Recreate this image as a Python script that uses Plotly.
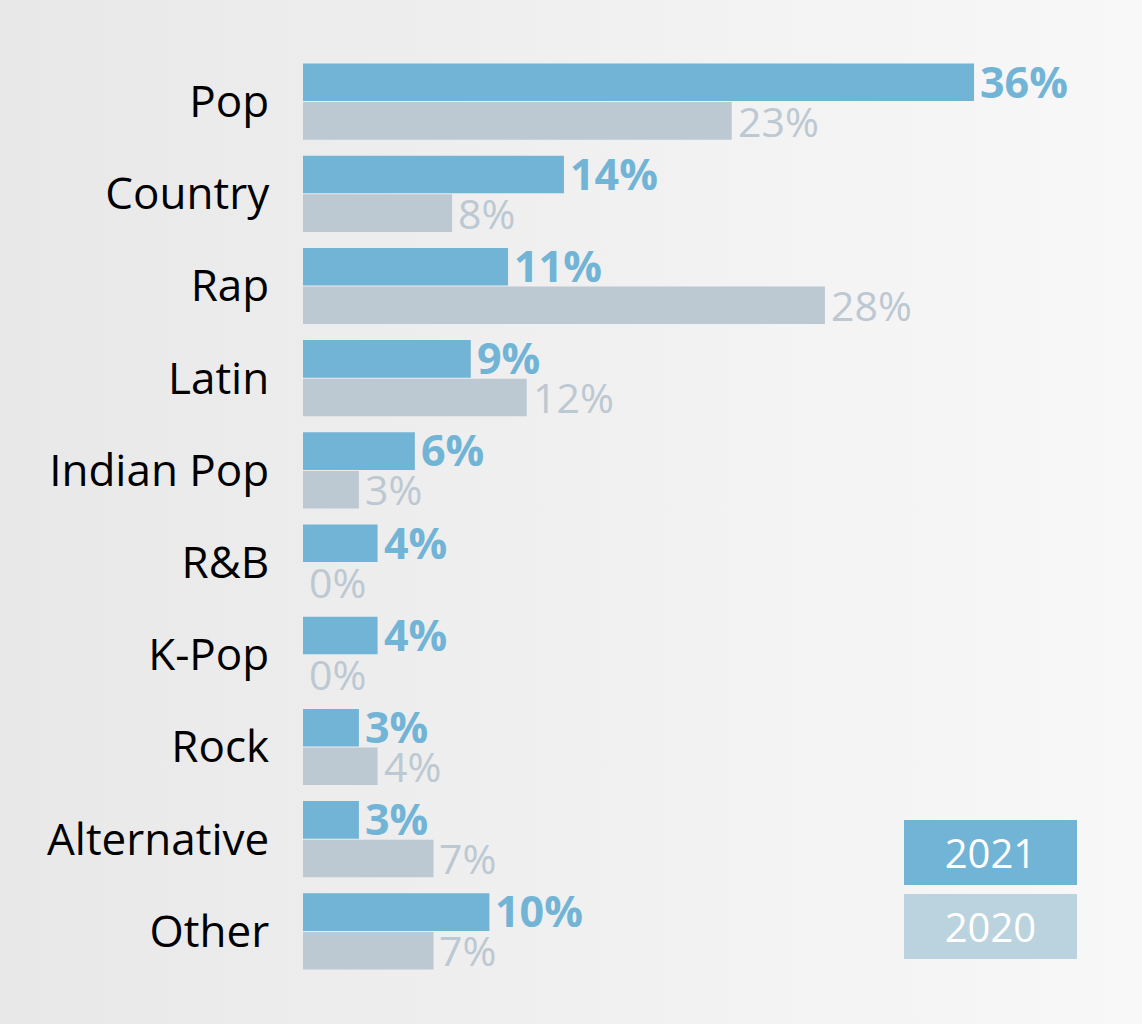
import plotly.graph_objects as go

categories = ["Pop", "Country", "Rap", "Latin", "Indian Pop", "R&B", "K-Pop", "Rock", "Alternative", "Other"]
values_2021 = [36, 14, 11, 9, 6, 4, 4, 3, 3, 10]
values_2020 = [23, 8, 28, 12, 3, 0, 0, 4, 7, 7]
series_names = ["2021", "2020"]

W, H = 1142, 1024
C2021 = "#72b4d6"
C2020 = "#bcc8d2"
C2020_LEG = "#bad3de"
FONT = "Open Sans"

fig = go.Figure()

# background gradient (full paper subplot, drawn first)
fig.add_trace(go.Scatter(
    x=[0, 1, 1, 0, 0], y=[0, 0, 1, 1, 0], mode="lines", fill="toself",
    line=dict(width=0), hoverinfo="skip", showlegend=False,
    fillgradient=dict(type="horizontal", colorscale=[[0, "#e8e8e8"], [0.5, "#f0f0f0"], [1, "#f8f8f8"]]),
    xaxis="x", yaxis="y",
))

fig.add_trace(go.Bar(
    y=categories, x=values_2021, orientation="h", name=series_names[0],
    marker=dict(color=C2021, line=dict(width=0)), showlegend=False,
    xaxis="x2", yaxis="y2",
))
fig.add_trace(go.Bar(
    y=categories, x=values_2020, orientation="h", name=series_names[1],
    marker=dict(color=C2020, line=dict(width=0)), showlegend=False,
    xaxis="x2", yaxis="y2",
))

annotations = []
for cat, v in zip(categories, values_2021):
    annotations.append(dict(
        x=v, y=cat, xref="x2", yref="y2", xanchor="left", yanchor="middle",
        xshift=4, yshift=20.5, showarrow=False, text=f"<b>{v}%</b>",
        font=dict(family=FONT, size=43, color=C2021),
    ))
for cat, v in zip(categories, values_2020):
    annotations.append(dict(
        x=v, y=cat, xref="x2", yref="y2", xanchor="left", yanchor="middle",
        xshift=4, yshift=-19, showarrow=False, text=f"{v}%",
        font=dict(family=FONT, size=41, color=C2020),
    ))

# custom legend boxes
for name, col, ytop in [(series_names[0], C2021, 820), (series_names[1], C2020_LEG, 894)]:
    annotations.append(dict(
        x=(904 + 1077) / 2 / W, y=1 - (ytop + 32.5) / H, xref="paper", yref="paper",
        xanchor="center", yanchor="middle", showarrow=False, text=name,
        width=173, height=65, bgcolor=col, borderpad=0, borderwidth=0,
        font=dict(family=FONT, size=40, color="white"),
    ))

x0 = 303 / W
fig.update_layout(
    width=W, height=H,
    margin=dict(l=0, r=0, t=0, b=0),
    paper_bgcolor="#f0f0f0", plot_bgcolor="rgba(0,0,0,0)",
    barmode="group", bargap=15 / 92, bargroupgap=1 / 38.5,
    font=dict(family=FONT),
    xaxis=dict(domain=[0, 1], range=[0, 1], visible=False, fixedrange=True),
    yaxis=dict(domain=[0, 1], range=[0, 1], visible=False, fixedrange=True),
    xaxis2=dict(domain=[x0, 1], range=[0, 839 / 18.64], visible=False, fixedrange=True, anchor="y2"),
    yaxis2=dict(
        domain=[1 - 977.5 / H, 1 - 55.5 / H], range=[9.5, -0.5], type="category",
        anchor="x2", fixedrange=True,
        showgrid=False, zeroline=False, showline=False,
        ticks="outside", ticklen=24, tickcolor="rgba(0,0,0,0)",
        tickfont=dict(family=FONT, size=44, color="#000000"),
    ),
    annotations=annotations,
)

fig.write_html(
    "out.html",
    config={"displayModeBar": False},
    post_script="document.body.style.margin='0';document.body.style.padding='0';",
)
